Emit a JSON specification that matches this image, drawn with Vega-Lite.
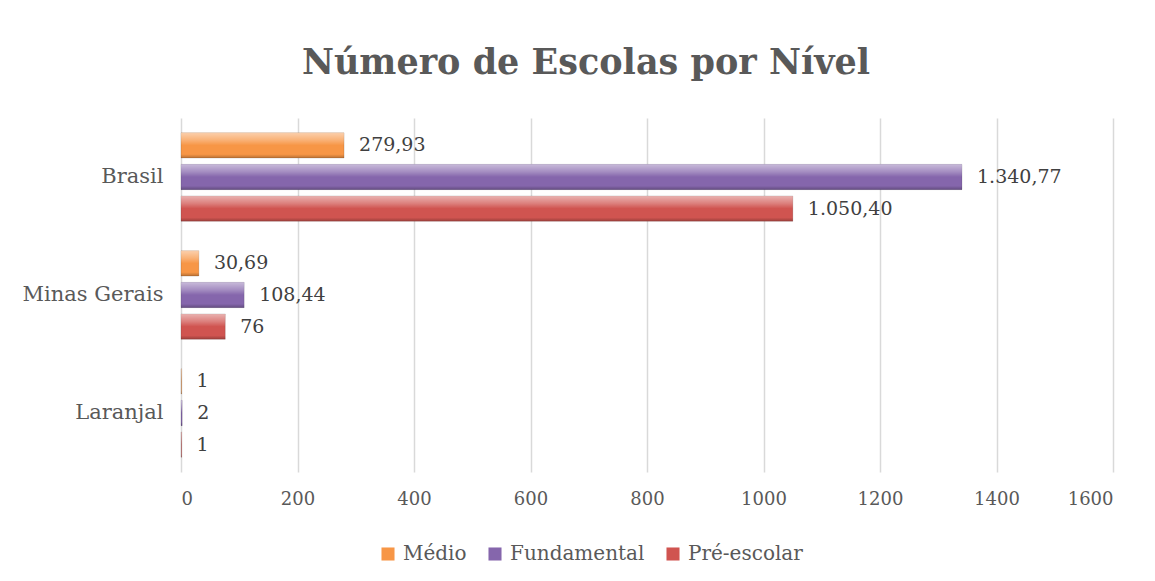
{
  "$schema": "https://vega.github.io/schema/vega-lite/v6.json",
  "width": 932,
  "height": 354,
  "autosize": {"type": "none"},
  "padding": {"left": 181, "top": 118, "right": 42, "bottom": 109},
  "background": "white",
  "config": {"view": {"stroke": null}},
  "title": {
    "text": "Número de Escolas por Nível",
    "font": "DejaVu Serif",
    "fontSize": 35,
    "fontWeight": "bold",
    "color": "#595959",
    "anchor": "middle",
    "dx": -61,
    "offset": 9,
    "baseline": "alphabetic"
  },
  "data": {
    "values": [
      {"local": "Brasil", "nivel": "Médio", "valor": 279.93, "rotulo": "279,93"},
      {"local": "Brasil", "nivel": "Fundamental", "valor": 1340.77, "rotulo": "1.340,77"},
      {"local": "Brasil", "nivel": "Pré-escolar", "valor": 1050.40, "rotulo": "1.050,40"},
      {"local": "Minas Gerais", "nivel": "Médio", "valor": 30.69, "rotulo": "30,69"},
      {"local": "Minas Gerais", "nivel": "Fundamental", "valor": 108.44, "rotulo": "108,44"},
      {"local": "Minas Gerais", "nivel": "Pré-escolar", "valor": 76, "rotulo": "76"},
      {"local": "Laranjal", "nivel": "Médio", "valor": 1, "rotulo": "1"},
      {"local": "Laranjal", "nivel": "Fundamental", "valor": 2, "rotulo": "2"},
      {"local": "Laranjal", "nivel": "Pré-escolar", "valor": 1, "rotulo": "1"}
    ]
  },
  "encoding": {
    "y": {
      "field": "local",
      "type": "nominal",
      "sort": ["Brasil", "Minas Gerais", "Laranjal"],
      "scale": {"paddingInner": 0.25, "paddingOuter": 0.125},
      "axis": {
        "title": null,
        "domain": false,
        "ticks": false,
        "grid": false,
        "labelFont": "DejaVu Serif",
        "labelFontSize": 21,
        "labelColor": "#595959",
        "labelPadding": 18
      }
    },
    "yOffset": {
      "field": "nivel",
      "type": "nominal",
      "sort": ["Médio", "Fundamental", "Pré-escolar"],
      "scale": {"paddingInner": 0.2, "paddingOuter": 0}
    },
    "x": {
      "field": "valor",
      "type": "quantitative",
      "scale": {"domain": [0, 1600], "nice": false},
      "axis": {
        "title": null,
        "values": [0, 200, 400, 600, 800, 1000, 1200, 1400, 1600],
        "format": "d",
        "grid": true,
        "gridColor": "#d9d9d9",
        "gridWidth": 1.5,
        "domain": false,
        "ticks": false,
        "labelFont": "DejaVu Serif",
        "labelFontSize": 18,
        "labelColor": "#595959",
        "labelPadding": 18
      }
    }
  },
  "layer": [
    {
      "mark": {"type": "bar", "stroke": "#000000", "strokeOpacity": 0.12, "strokeWidth": 1},
      "encoding": {
        "color": {
          "field": "nivel",
          "type": "nominal",
          "sort": ["Médio", "Fundamental", "Pré-escolar"],
          "scale": {
            "domain": ["Médio", "Fundamental", "Pré-escolar"],
            "range": ["#F79646", "#8566AC", "#D05450"]
          },
          "legend": {
            "title": null,
            "orient": "none",
            "legendX": 197,
            "legendY": 426,
            "direction": "horizontal",
            "symbolType": "square",
            "symbolSize": 170,
            "symbolStrokeWidth": 0,
            "labelFont": "DejaVu Serif",
            "labelFontSize": 20,
            "labelColor": "#595959",
            "labelOffset": 5,
            "columnPadding": 18
          }
        }
      }
    },
    {
      "mark": {
        "type": "bar",
        "fill": {
          "gradient": "linear",
          "x1": 0, "y1": 0, "x2": 0, "y2": 1,
          "stops": [
            {"offset": 0, "color": "rgba(255,255,255,0.55)"},
            {"offset": 0.3, "color": "rgba(255,255,255,0.25)"},
            {"offset": 0.5, "color": "rgba(255,255,255,0)"},
            {"offset": 0.85, "color": "rgba(0,0,0,0)"},
            {"offset": 1, "color": "rgba(0,0,0,0.25)"}
          ]
        }
      },
      "encoding": {}
    },
    {
      "mark": {
        "type": "text",
        "align": "left",
        "baseline": "middle",
        "dx": 15,
        "font": "DejaVu Serif",
        "fontSize": 19,
        "color": "#404040"
      },
      "encoding": {"text": {"field": "rotulo"}}
    }
  ]
}
